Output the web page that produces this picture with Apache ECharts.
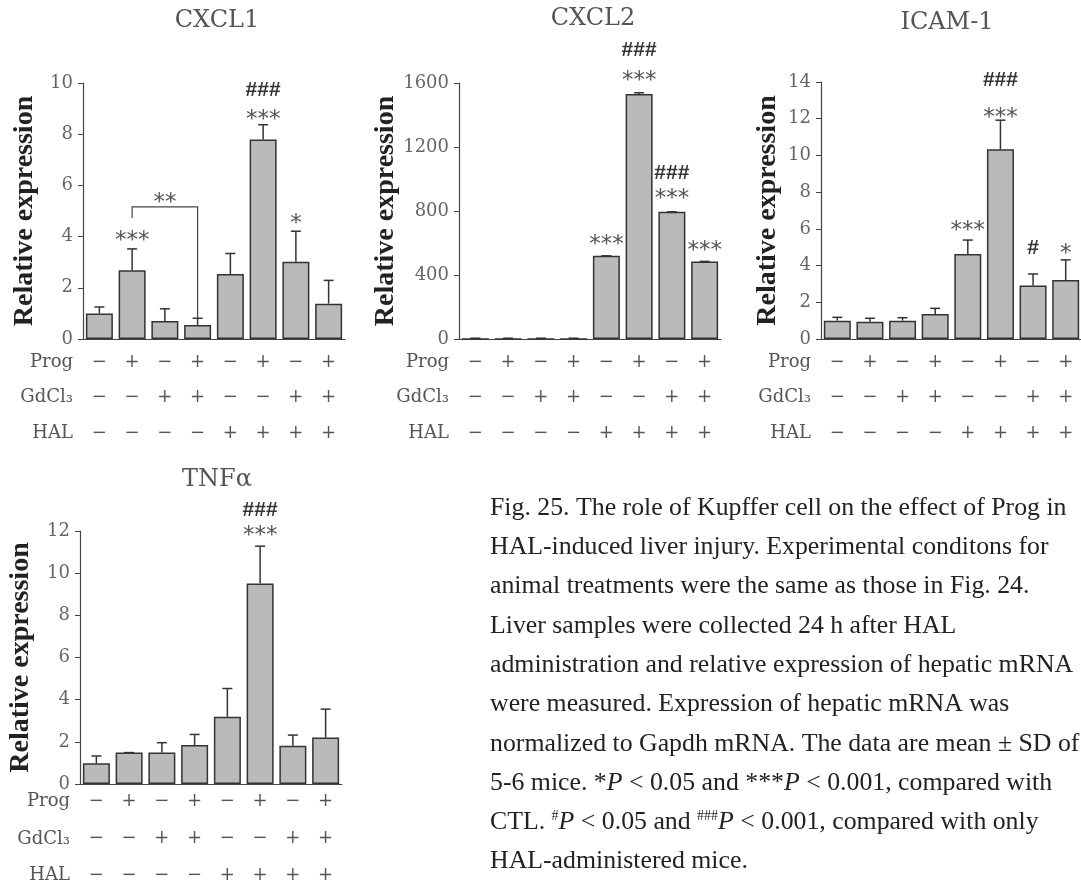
<!DOCTYPE html>
<html>
<head>
<meta charset="utf-8">
<script src="https://cdn.jsdelivr.net/npm/echarts@6/dist/echarts.min.js"></script>
<style>
html,body{margin:0;padding:0;background:#fff;}
#main{width:1081px;height:885px;}
</style>
</head>
<body>
<div id="main"></div>
<script>
// treatment table under each panel
var groups = ['CTL', 'Prog', 'GdCl3', 'Prog+GdCl3', 'HAL', 'Prog+HAL', 'GdCl3+HAL', 'Prog+GdCl3+HAL'];
var prog  = ['−', '+', '−', '+', '−', '+', '−', '+'];
var gdcl3 = ['−', '−', '+', '+', '−', '−', '+', '+'];
var hal   = ['−', '−', '−', '−', '+', '+', '+', '+'];
var rowNames = ['Prog', 'GdCl₃', 'HAL'];

// mean / SD
var cxcl1Mean = [1.0, 2.69, 0.70, 0.55, 2.54, 7.79, 3.02, 1.38];
var cxcl1Sd   = [0.25, 0.83, 0.48, 0.26, 0.80, 0.58, 1.19, 0.91];
var cxcl2Mean = [1, 1, 1, 1, 520, 1531, 795, 485];
var cxcl2Sd   = [4, 4, 4, 4, 0, 8, 0, 0];
var icamMean  = [1.0, 0.94, 1.0, 1.36, 4.63, 10.33, 2.92, 3.21];
var icamSd    = [0.18, 0.19, 0.16, 0.31, 0.76, 1.59, 0.62, 1.1];
var tnfMean   = [0.98, 1.49, 1.49, 1.85, 3.19, 9.51, 1.82, 2.2];
var tnfSd     = [0.35, 0, 0.47, 0.5, 1.34, 1.77, 0.5, 1.35];

// significance marks: [category, y value, text]
var cxcl1Notes = [[1, 4.06, '***'], [2, 5.55, '**'], [5, 8.79, '***'], [5, 9.73, '###'], [6, 4.73, '*']];
var cxcl1Bracket = [[1, 4.73], [1, 5.16], [3, 5.16], [3, 0.82]];
var cxcl2Notes = [[4, 625, '***'], [5, 1650, '***'], [5, 1806, '###'], [6, 912, '***'], [6, 1037, '###'], [7, 587, '***']];
var icamNotes  = [[4, 6.21, '***'], [5, 12.36, '***'], [5, 14.1, '###'], [6, 4.96, '#'], [7, 4.96, '*']];
var tnfNotes   = [[5, 12.05, '***'], [5, 13.0, '###']];

var captionLines = [
	'Fig. 25. The role of Kupffer cell on the effect of Prog in',
	'HAL-induced liver injury. Experimental conditons for',
	'animal treatments were the same as those in Fig. 24.',
	'Liver samples were collected 24 h after HAL',
	'administration and relative expression of hepatic mRNA',
	'were measured. Expression of hepatic mRNA was',
	'normalized to Gapdh mRNA. The data are mean ± SD of',
	'5-6 mice. *{i|P} < 0.05 and ***{i|P} < 0.001, compared with',
	'CTL. {sup|#}{i|P} < 0.05 and {sup|###}{i|P} < 0.001, compared with only',
	'HAL-administered mice.'
];

var panels = [
	{title: 'CXCL1', mean: cxcl1Mean, sd: cxcl1Sd, notes: cxcl1Notes, max: 10, interval: 2,
	 left: 83, top: 83, width: 262, height: 256, nameGap: 44, rowY: [362, 397, 433], titleX: 217, titleY: 21},
	{title: 'CXCL2', mean: cxcl2Mean, sd: cxcl2Sd, notes: cxcl2Notes, max: 1600, interval: 400,
	 left: 459, top: 83, width: 262, height: 256, nameGap: 54, rowY: [362, 397, 433], titleX: 593, titleY: 19},
	{title: 'ICAM-1', mean: icamMean, sd: icamSd, notes: icamNotes, max: 14, interval: 2,
	 left: 821, top: 82, width: 261, height: 257, nameGap: 39, rowY: [362, 397, 433], titleX: 947, titleY: 23},
	{title: 'TNFα', mean: tnfMean, sd: tnfSd, notes: tnfNotes, max: 12, interval: 2,
	 left: 80, top: 531, width: 262, height: 253, nameGap: 45, rowY: [801, 839, 875], titleX: 217, titleY: 480}
];

var serif = 'DejaVu Serif';
var chart = echarts.init(document.getElementById('main'));

var grids = [], xAxes = [], yAxes = [], series = [], graphics = [];

panels.forEach(function(p, gi) {
	var axisY = p.top + p.height;
	var lineH = (p.rowY[2] - p.rowY[0]) / 2;
	grids.push({left: p.left, top: p.top, width: p.width, height: p.height,
		containLabel: false, outerBoundsMode: 'none'});
	xAxes.push({
		type: 'category', gridIndex: gi, data: groups,
		axisLine: {show: true, lineStyle: {color: '#444', width: 1.2}},
		axisTick: {show: false},
		axisLabel: {
			interval: 0, margin: p.rowY[0] - axisY - lineH / 2, fontFamily: serif, fontSize: 18, color: '#555',
			lineHeight: lineH,
			formatter: function(v, i) { return prog[i] + '\n' + gdcl3[i] + '\n' + hal[i]; }
		}
	});
	yAxes.push({
		type: 'value', gridIndex: gi, min: 0, max: p.max, interval: p.interval,
		name: 'Relative expression', nameLocation: 'middle', nameGap: p.nameGap,
		nameTextStyle: {fontFamily: 'Liberation Serif', fontWeight: 'bold', fontSize: 28, color: '#222'},
		axisLine: {show: true, lineStyle: {color: '#444', width: 1.2}},
		axisTick: {show: true, length: 5, lineStyle: {color: '#444'}},
		axisLabel: {fontFamily: serif, fontSize: 18, color: '#666', margin: 10,
			formatter: function(v) { return String(v); }},
		splitLine: {show: false}
	});
	series.push({
		type: 'bar', xAxisIndex: gi, yAxisIndex: gi, data: p.mean, barWidth: 27,
		itemStyle: {color: '#bababa', borderColor: '#333', borderWidth: 1.5},
		z: 2
	});
	// upper error whiskers
	series.push({
		type: 'custom', xAxisIndex: gi, yAxisIndex: gi, z: 3, silent: true,
		data: p.mean.map(function(m, i) { return [i, m, m + p.sd[i]]; }),
		renderItem: function(params, api) {
			var a = api.coord([api.value(0), api.value(1)]);
			var b = api.coord([api.value(0), api.value(2)]);
			return {type: 'group', children: [
				{type: 'line', shape: {x1: a[0], y1: a[1], x2: b[0], y2: b[1]}, style: {stroke: '#333', lineWidth: 1.5}},
				{type: 'line', shape: {x1: b[0] - 5, y1: b[1], x2: b[0] + 5, y2: b[1]}, style: {stroke: '#333', lineWidth: 1.5}}
			]};
		}
	});
	// significance marks
	series.push({
		type: 'custom', xAxisIndex: gi, yAxisIndex: gi, z: 4, silent: true, clip: false,
		data: p.notes.map(function(n) { return [n[0], n[1]]; }),
		renderItem: function(params, api) {
			var n = p.notes[params.dataIndex];
			var c = api.coord([api.value(0), api.value(1)]);
			var hash = n[2].charAt(0) === '#';
			return {type: 'text', x: c[0], y: hash ? c[1] : c[1] + 6, style: {
				text: n[2], align: 'center', verticalAlign: 'middle',
				font: hash ? 'bold 21px "Liberation Sans"' : '23px "DejaVu Sans"',
				fill: hash ? '#333' : '#555'
			}};
		}
	});
	// panel title
	graphics.push({type: 'text', x: p.titleX, y: p.titleY, style: {
		text: p.title, align: 'center', verticalAlign: 'middle',
		font: '24px "' + serif + '"', fill: '#555'
	}});
	// row names of the treatment table
	rowNames.forEach(function(r, k) {
		graphics.push({type: 'text', x: p.left - 10, y: p.rowY[k], style: {
			text: r, align: 'right', verticalAlign: 'middle',
			font: '18px "' + serif + '"', fill: '#555'
		}});
	});
});

// bracket between Prog and Prog+GdCl3 in CXCL1
series.push({
	type: 'custom', xAxisIndex: 0, yAxisIndex: 0, z: 4, silent: true,
	data: [0],
	renderItem: function(params, api) {
		var pts = cxcl1Bracket.map(function(q) { return api.coord(q); });
		return {type: 'polyline', shape: {points: pts}, style: {stroke: '#444', lineWidth: 1.2, fill: null}};
	}
});

// caption
captionLines.forEach(function(t, k) {
	graphics.push({type: 'text', x: 490, y: 508 + 39.3 * k, style: {
		text: t, verticalAlign: 'middle', fontFamily: 'Liberation Serif', fontSize: 25.8, fill: '#222',
		rich: {
			i: {fontFamily: 'Liberation Serif', fontSize: 25.8, fontStyle: 'italic', fill: '#222'},
			sup: {fontFamily: 'Liberation Serif', fontSize: 14, fill: '#222', verticalAlign: 'top', padding: [0, 0, 12, 0]}
		}
	}});
});

chart.setOption({
	animation: false,
	backgroundColor: '#fff',
	grid: grids,
	xAxis: xAxes,
	yAxis: yAxes,
	series: series,
	graphic: graphics
});
</script>
</body>
</html>
